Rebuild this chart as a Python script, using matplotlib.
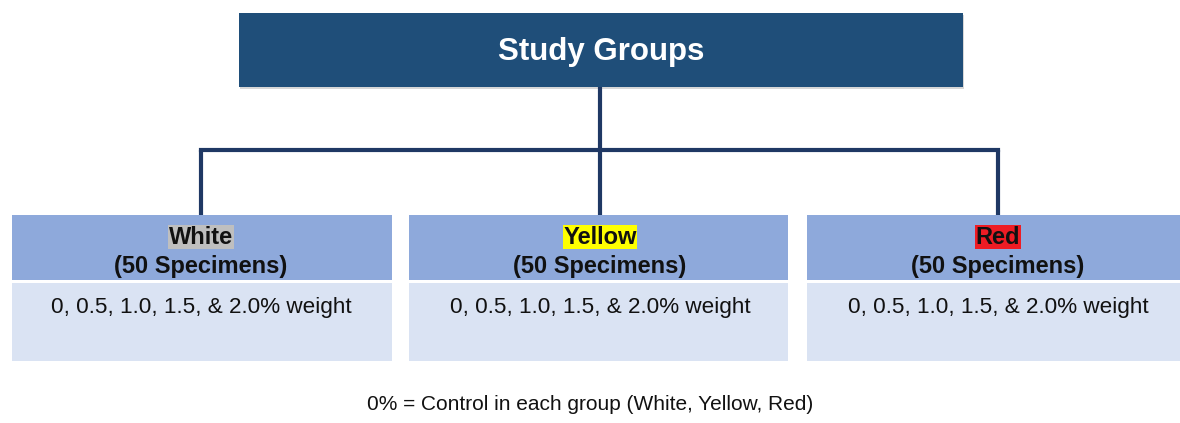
import matplotlib
matplotlib.use("Agg")
import matplotlib.pyplot as plt
from matplotlib.patches import Rectangle

# Data
title = "Study Groups"
groups = ["White", "Yellow", "Red"]
highlight_colors = ["#BFBFBF", "#FFFF00", "#EE1C24"]
specimens = [50, 50, 50]
concentrations = ["0", "0.5", "1.0", "1.5", "2.0"]
footer = "0% = Control in each group (White, Yellow, Red)"

plt.rcParams['font.family'] = ['Liberation Sans', 'DejaVu Sans']

W, H = 1180, 423
fig = plt.figure(figsize=(W / 100, H / 100), dpi=100)
ax = fig.add_axes([0, 0, 1, 1])
ax.set_xlim(0, W)
ax.set_ylim(H, 0)
ax.axis("off")

dark = "#1F4E79"
line_c = "#1F3864"
head_c = "#8EA9DB"
body_c = "#DAE3F3"

# top box with subtle shadow
ax.add_patch(Rectangle((240, 15), 724, 74, facecolor="#b0b0b0", edgecolor="none", alpha=0.5, zorder=1))
ax.add_patch(Rectangle((239, 13), 724, 74, facecolor=dark, edgecolor="none", zorder=2))
ax.text(601, 52, title, color="white", fontsize=22.5, fontweight="bold", ha="center", va="center", zorder=3)

# connectors
box_x = [(12, 392), (409, 788), (807, 1180)]
centers = [201, 600, 998]
ax.plot([600, 600], [87, 150], color=line_c, lw=3, zorder=1, solid_capstyle="butt")
ax.plot([centers[0], centers[-1]], [150, 150], color=line_c, lw=3, zorder=1, solid_capstyle="projecting")
for c in centers:
    ax.plot([c, c], [150, 216], color=line_c, lw=3, zorder=1, solid_capstyle="butt")

conc_text = ", ".join(concentrations[:-1]) + ", & " + concentrations[-1] + "% weight"
for (x0, x1), g, hc, n, c in zip(box_x, groups, highlight_colors, specimens, centers):
    ax.add_patch(Rectangle((x0, 215), x1 - x0, 65, facecolor=head_c, edgecolor="none", zorder=2))
    ax.add_patch(Rectangle((x0, 283), x1 - x0, 78, facecolor=body_c, edgecolor="none", zorder=2))
    ax.text(c, 237, g, fontsize=17, fontweight="bold", ha="center", va="center", color="#111111",
            bbox=dict(facecolor=hc, edgecolor="none", pad=0.5), zorder=3)
    ax.text(c, 267, f"({n} Specimens)", fontsize=17, fontweight="bold", ha="center", va="center",
            color="#111111", zorder=3)
    ax.text(c, 307, conc_text, fontsize=16.2, ha="center", va="center", color="#111111", zorder=3)

ax.text(590, 405, footer, fontsize=15, ha="center", va="center", color="#111111")

fig.savefig("out.png", dpi=100)
